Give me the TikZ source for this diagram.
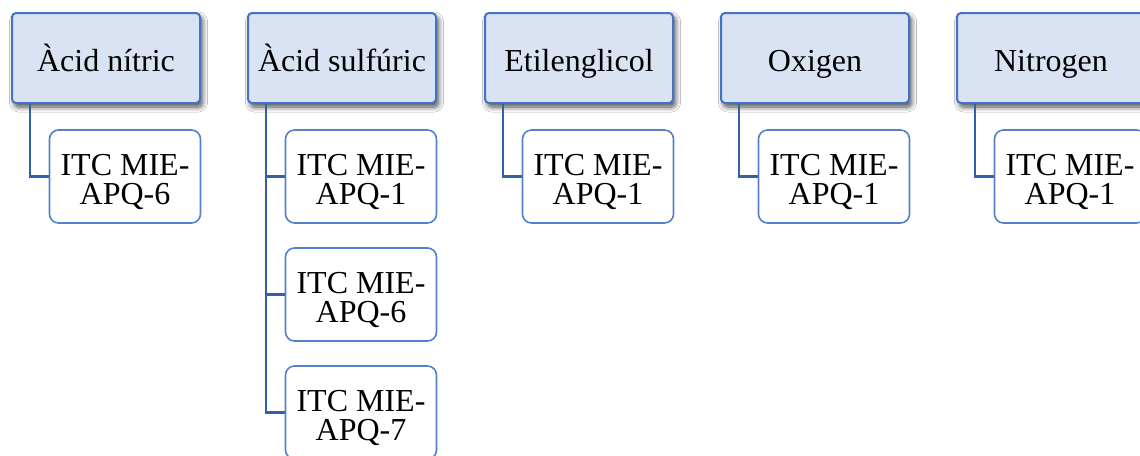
\documentclass[tikz,border=0pt]{standalone}
\usepackage{fontspec}
\setmainfont{Liberation Serif}
\usetikzlibrary{shadows.blur,calc}
\definecolor{headfill}{HTML}{DAE3F3}
\definecolor{boxblue}{HTML}{4472C4}
\definecolor{linkblue}{HTML}{3560A8}
\tikzset{
  head/.style={draw=boxblue, line width=2pt, fill=headfill, rounded corners=4pt,
    minimum width=188pt, minimum height=90pt, inner sep=0pt,
    text height=26pt, text depth=0pt,
    font=\fontsize{32}{29}\selectfont,
    blur shadow={shadow xshift=2.5pt, shadow yshift=-4pt, shadow blur steps=8,
      shadow blur radius=5pt, shadow opacity=70}},
  leaf/.style={draw=boxblue!90, line width=1.6pt, fill=white, rounded corners=9pt,
    minimum width=151pt, minimum height=93pt, inner sep=0pt, align=center,
    text height=55pt, text depth=0pt,
    font=\fontsize{32}{29}\selectfont},
  link/.style={draw=linkblue, line width=2.6pt}
}
\begin{document}
\begin{tikzpicture}[x=1pt, y=-1pt]
  \def\cw{1140} \def\ch{455}
  \clip (0,0) rectangle (\cw,\ch);
  \fill[white] (0,0) rectangle (\cw,\ch);
  % top row
  \foreach \n/\x/\t in {nitric/106/Àcid nítric, sulfuric/342/Àcid sulfúric,
      etilen/579/Etilenglicol, oxigen/815/Oxigen, nitrogen/1051/Nitrogen}
    { \node[head] (\n) at (\x,58) {\t}; }
  % leaves
  \node[leaf] (nitric1) at (125,176.5) {ITC MIE-\\APQ-6};
  \node[leaf] (sulfuric1) at (361,176.5) {ITC MIE-\\APQ-1};
  \node[leaf] (sulfuric2) at (361,294.5) {ITC MIE-\\APQ-6};
  \node[leaf] (sulfuric3) at (361,412.5) {ITC MIE-\\APQ-7};
  \node[leaf] (etilen1) at (598,176.5) {ITC MIE-\\APQ-1};
  \node[leaf] (oxigen1) at (834,176.5) {ITC MIE-\\APQ-1};
  \node[leaf] (nitrogen1) at (1070,176.5) {ITC MIE-\\APQ-1};
  % connectors
  \foreach \n in {nitric,etilen,oxigen,nitrogen}
    { \draw[link] ($(\n.south west)!0.1!(\n.south east)$) |- (\n1.west); }
  \foreach \k in {1,2,3}
    { \draw[link] ($(sulfuric.south west)!0.1!(sulfuric.south east)$) |- (sulfuric\k.west); }
\end{tikzpicture}
\end{document}
